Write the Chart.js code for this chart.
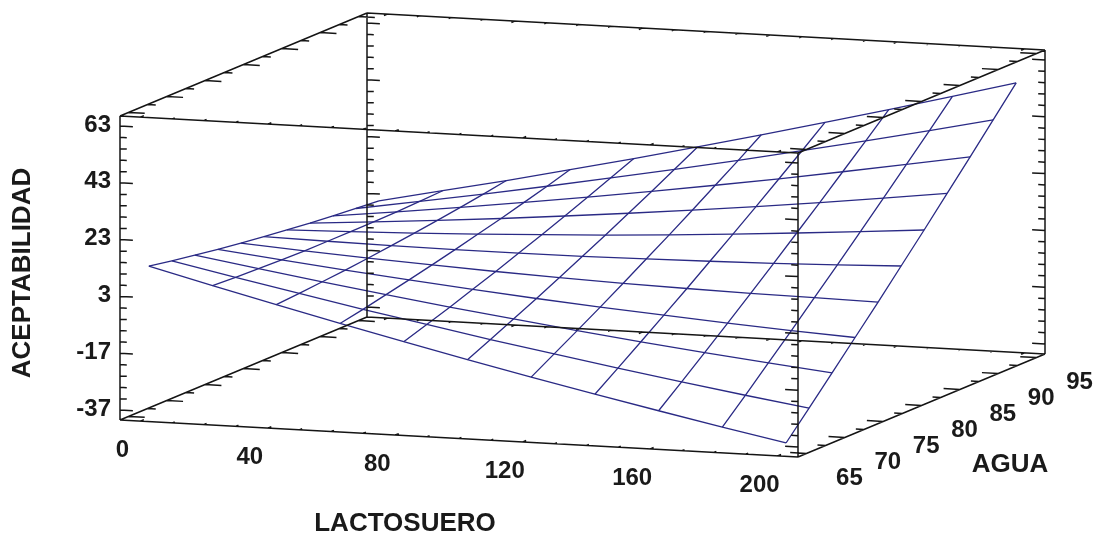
<!DOCTYPE html>
<html lang="es">
<head>
<meta charset="UTF-8">
<title>Superficie de respuesta - Aceptabilidad</title>
<style>
body { margin: 0; background: #fff; }
</style>
</head>
<body>
<canvas id="chart" width="1102" height="536"></canvas>
<script src="https://cdn.jsdelivr.net/npm/chart.js"></script>
<script>
// datos
const lactosuero = [0, 20, 40, 60, 80, 100, 120, 140, 160, 180, 200];
const agua = [65, 68, 71, 74, 77, 80, 83, 86, 89, 92, 95];

// una fila por cada valor de agua, una columna por cada valor de lactosuero
const acept65 = [12.8, 7.2, 1.7, -3.7, -8.9, -14.0, -18.9, -23.7, -28.3, -32.8, -37.2];
const acept68 = [11.3, 6.7, 2.3, -2.1, -6.2, -10.3, -14.1, -17.9, -21.5, -25.0, -28.3];
const acept71 = [9.9, 6.4, 3.0, -0.3, -3.5, -6.4, -9.3, -12.0, -14.6, -17.0, -19.3];
const acept74 = [8.6, 6.1, 3.7, 1.5, -0.6, -2.6, -4.4, -6.0, -7.6, -9.0, -10.2];
const acept77 = [7.4, 5.9, 4.6, 3.4, 2.3, 1.4, 0.6, 0.0, -0.5, -0.8, -1.1];
const acept80 = [6.3, 5.9, 5.6, 5.4, 5.4, 5.5, 5.8, 6.2, 6.7, 7.4, 8.2];
const acept83 = [5.3, 5.9, 6.6, 7.5, 8.5, 9.6, 10.9, 12.4, 14.0, 15.7, 17.5];
const acept86 = [4.3, 6.0, 7.7, 9.6, 11.7, 13.9, 16.2, 18.7, 21.3, 24.1, 27.0];
const acept89 = [3.5, 6.1, 8.9, 11.9, 15.0, 18.2, 21.6, 25.1, 28.8, 32.6, 36.5];
const acept92 = [2.7, 6.4, 10.2, 14.2, 18.4, 22.6, 27.0, 31.6, 36.3, 41.1, 46.1];
const acept95 = [2.0, 6.8, 11.6, 16.7, 21.8, 27.1, 32.6, 38.2, 43.9, 49.8, 55.8];
const aceptabilidad = [acept65, acept68, acept71, acept74, acept77, acept80, acept83, acept86, acept89, acept92, acept95];

const lactTicks = [0, 40, 80, 120, 160, 200];
const aguaTicks = [65, 70, 75, 80, 85, 90, 95];
const aceptTicks = [-37, -17, 3, 23, 43, 63];

// limites de la caja 3D
const lactMin = -6.4, lactMax = 206.4;
const aguaMin = 63.9, aguaMax = 96.1;
const aceptMin = -40.5, aceptMax = 66.5;

// proyeccion de la caja al plano del grafico
function proj(u, v, t) {
    return { x: 120 + 678 * u + 247 * v, y: 420 + 37 * u - 103 * v - 304 * t };
}
const uOf = l => (l - lactMin) / (lactMax - lactMin);
const vOf = a => (a - aguaMin) / (aguaMax - aguaMin);
const tOf = z => (z - aceptMin) / (aceptMax - aceptMin);

// malla de la superficie
const meshData = [];
aceptabilidad.forEach((row, j) => {
    const line = row.map((z, i) => proj(uOf(lactosuero[i]), vOf(agua[j]), tOf(z)));
    meshData.push(line);
});
lactosuero.forEach((l, i) => {
    const line = agua.map((a, j) => proj(uOf(l), vOf(a), tOf(aceptabilidad[j][i])));
    meshData.push(line);
});

// caja y marcas
const boxPts = [];
function seg(a, b) {
    boxPts.push(a, b, { x: NaN, y: NaN });
}
[0, 1].forEach(a => {
    [0, 1].forEach(b => {
        seg(proj(0, a, b), proj(1, a, b));
        seg(proj(a, 0, b), proj(a, 1, b));
        seg(proj(a, b, 0), proj(a, b, 1));
    });
});

// marcas de aceptabilidad, cada 4 unidades
for (let z = aceptTicks[0]; z <= aceptTicks[aceptTicks.length - 1]; z += 4) {
    const len = aceptTicks.includes(z) ? 0.019 : 0.01;
    [0, 1].forEach(v => {
        seg(proj(0, v, tOf(z)), proj(len, v, tOf(z)));
        seg(proj(1, v, tOf(z)), proj(1 - len, v, tOf(z)));
    });
}
// marcas de lactosuero, cada 10 unidades
for (let l = 0; l <= 200; l += 10) {
    const len = lactTicks.includes(l) ? 0.014 : 0.01;
    [0, 1].forEach(t => {
        seg(proj(uOf(l), 0, t), proj(uOf(l), len, t));
        seg(proj(uOf(l), 1, t), proj(uOf(l), 1 - len, t));
    });
}
// marcas de agua, cada 2.5 unidades
for (let a = 65; a <= 95; a += 2.5) {
    const len = aguaTicks.includes(a) ? 0.024 : 0.012;
    [0, 1].forEach(t => {
        seg(proj(0, vOf(a), t), proj(len, vOf(a), t));
        seg(proj(1, vOf(a), t), proj(1 - len, vOf(a), t));
    });
}

const datasets = meshData.map(line => ({
    data: line,
    showLine: true,
    borderColor: '#2a2a85',
    borderWidth: 1.3,
    pointRadius: 0,
    order: 2
}));
datasets.push({
    data: boxPts,
    showLine: true,
    spanGaps: false,
    borderColor: '#151515',
    borderWidth: 1.5,
    pointRadius: 0,
    order: 1
});

// textos de los ejes
const axisText = {
    id: 'axisText',
    afterDraw(chart) {
        const { ctx, scales } = chart;
        const px = p => scales.x.getPixelForValue(p.x);
        const py = p => scales.y.getPixelForValue(p.y);
        ctx.save();
        ctx.fillStyle = '#1a1a1a';
        ctx.font = 'bold 24px "Liberation Sans"';
        ctx.textBaseline = 'middle';

        ctx.textAlign = 'right';
        aceptTicks.forEach(z => {
            const p = proj(0, 0, tOf(z));
            ctx.fillText(String(z), px(p) - 9, py(p) - 1);
        });
        ctx.textAlign = 'center';
        lactTicks.forEach(l => {
            const p = proj(uOf(l), 0, 0);
            ctx.fillText(String(l), px(p) - 18, py(p) + 29);
        });
        aguaTicks.forEach(a => {
            const p = proj(1, vOf(a), 0);
            ctx.fillText(String(a), px(p) + 43, py(p) + 25);
        });

        ctx.font = 'bold 26px "Liberation Sans"';
        ctx.fillText('LACTOSUERO', 405, 524);
        ctx.fillText('AGUA', 1010, 465);
        ctx.translate(23, 273);
        ctx.rotate(-Math.PI / 2);
        ctx.fillText('ACEPTABILIDAD', 0, 0);
        ctx.restore();
    }
};

new Chart(document.getElementById('chart').getContext('2d'), {
    type: 'scatter',
    data: { datasets: datasets },
    options: {
        responsive: false,
        animation: false,
        layout: { padding: 0 },
        plugins: { legend: { display: false }, tooltip: { enabled: false } },
        scales: {
            x: { type: 'linear', min: 0, max: 1102, display: false },
            y: { type: 'linear', min: 0, max: 536, reverse: true, display: false }
        }
    },
    plugins: [axisText]
});
</script>
</body>
</html>
